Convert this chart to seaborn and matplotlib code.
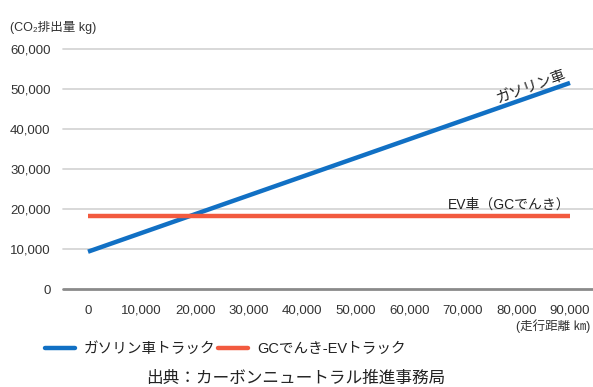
import matplotlib
matplotlib.use("Agg")
import matplotlib.pyplot as plt
import seaborn as sns
import pandas as pd
from matplotlib.lines import Line2D
from matplotlib.ticker import FuncFormatter

# ---- data ----
distance_km = [0, 90000]
gasoline_co2 = [9400, 51600]
ev_co2 = [18400, 18400]
series_names = ["ガソリン車トラック", "GCでんき-EVトラック"]
x_ticks = [0, 10000, 20000, 30000, 40000, 50000, 60000, 70000, 80000, 90000]
y_ticks = [0, 10000, 20000, 30000, 40000, 50000, 60000]

df = pd.DataFrame({
    "distance": distance_km * 2,
    "co2": gasoline_co2 + ev_co2,
    "series": [series_names[0]] * 2 + [series_names[1]] * 2,
})

sns.set_theme(style="white")
FAM = ["Liberation Sans", "Noto Sans CJK JP", "DejaVu Sans"]
plt.rcParams["font.family"] = FAM

BLUE = "#1170c4"
RED = "#f25a3f"
palette = {series_names[0]: BLUE, series_names[1]: RED}

W, H = 593, 387
fig = plt.figure(figsize=(W / 100, H / 100), dpi=100)
ax = fig.add_axes([63 / W, 1 - 289.3 / H, 1 - 63 / W, (289.3 - 49.3) / H])

sns.lineplot(data=df, x="distance", y="co2", hue="series", palette=palette,
             linewidth=3.2, ax=ax, legend=False, solid_capstyle="butt")

ax.set_xlim(-4668, 94294)
ax.set_ylim(0, 60000)
ax.set_xticks(x_ticks)
ax.set_yticks(y_ticks)
fmt = FuncFormatter(lambda v, p: f"{int(v):,}")
ax.xaxis.set_major_formatter(fmt)
ax.yaxis.set_major_formatter(fmt)
ax.tick_params(axis="both", length=0, labelsize=9.5, colors="#333333")
ax.tick_params(axis="x", pad=11)
ax.tick_params(axis="y", pad=9)
ax.set_xlabel("")
ax.set_ylabel("")
for s in ax.spines.values():
    s.set_visible(False)

for yv in y_ticks[1:]:
    ax.axhline(yv, color="#d6d6d6", linewidth=1.3, zorder=0, clip_on=False)
ax.axhline(0, color="#8a8a8a", linewidth=2.0, zorder=1, clip_on=False)

# annotations
ax.text(82700, 50700, "ガソリン車", rotation=20, rotation_mode="anchor",
        ha="center", va="center", fontsize=10.5, color="#222222")
ax.text(90000, 21100, "EV車（GCでんき）", ha="right", va="center",
        fontsize=10, color="#222222")

fig.text(10 / W, 1 - 27 / H, "(CO₂排出量 kg)", ha="left", va="center",
         fontsize=9, color="#333333")
fig.text(590 / W, 1 - 326 / H, "(走行距離 ㎞)", ha="right", va="center",
         fontsize=9, color="#333333")

handles = [Line2D([], [], color=BLUE, linewidth=3.2),
           Line2D([], [], color=RED, linewidth=3.2)]
fig.legend(handles, series_names, loc="center left",
           bbox_to_anchor=(45 / W, 1 - 349 / H), ncol=2, frameon=False,
           fontsize=10.5, handlelength=2.05, handletextpad=0.6,
           columnspacing=0.2, borderpad=0, borderaxespad=0,
           labelcolor="#222222")

fig.text(296 / W, 1 - 378 / H, "出典：カーボンニュートラル推進事務局",
         ha="center", va="center", fontsize=12, color="#222222")

fig.savefig("out.png", dpi=100)
